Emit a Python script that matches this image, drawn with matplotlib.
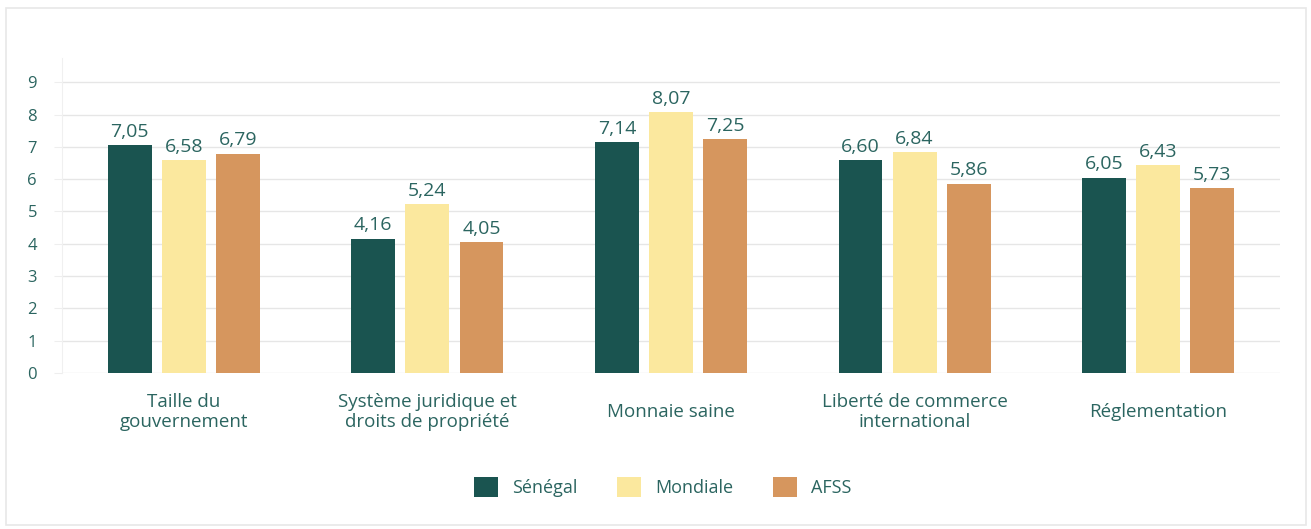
import matplotlib.pyplot as plt
import numpy as np
from matplotlib.patches import Rectangle

categories = ['Taille du\ngouvernement', 'Système juridique et\ndroits de propriété',
              'Monnaie saine', 'Liberté de commerce\ninternational', 'Réglementation']
senegal = [7.05, 4.16, 7.14, 6.60, 6.05]
mondiale = [6.58, 5.24, 8.07, 6.84, 6.43]
afss = [6.79, 4.05, 7.25, 5.86, 5.73]

series = ['Sénégal', 'Mondiale', 'AFSS']
colors = ['#1a5450', '#fbe89e', '#d6965e']
text_col = '#2b6560'

plt.rcParams['font.family'] = ['Open Sans', 'DejaVu Sans']

fig = plt.figure(figsize=(13.11, 5.29), dpi=100)
ax = fig.add_axes([62 / 1311, 1 - 373 / 529, 1218 / 1311, 315 / 529])

# light frame around the card
fig.patches.append(Rectangle((6 / 1311, 4 / 529), 1300 / 1311, 517 / 529,
                             transform=fig.transFigure, fill=False,
                             edgecolor='#e8e8e8', linewidth=1.2))

x = np.arange(len(categories))
width = 0.18
step = 0.222
for i, (vals, name, col) in enumerate(zip([senegal, mondiale, afss], series, colors)):
    bars = ax.bar(x + (i - 1) * step, vals, width=width, color=col, label=name, zorder=3)
    for b, v in zip(bars, vals):
        ax.text(b.get_x() + b.get_width() / 2, v + 0.13, f'{v:.2f}'.replace('.', ','),
                ha='center', va='bottom', fontsize=14, color=text_col, zorder=4)

ax.set_xlim(-0.5, 4.5)
ax.set_ylim(0, 9.75)
ax.set_yticks(range(10))
ax.grid(axis='y', color='#e6e6e6', linewidth=1, zorder=0)
ax.set_xticks(x)
ax.set_xticklabels(categories, fontsize=13.5, color=text_col, linespacing=1.15, va='center')
ax.tick_params(axis='x', length=0, pad=28)
ax.tick_params(axis='y', length=6, color='#eeeeee', labelsize=12, labelcolor=text_col, pad=12)
for s in ['top', 'right', 'bottom']:
    ax.spines[s].set_visible(False)
ax.spines['left'].set_color('#f0f0f0')

fig.legend(loc='center', bbox_to_anchor=(663 / 1311, 1 - 487 / 529), ncol=3, frameon=False,
           fontsize=13, labelcolor=text_col, handlelength=1.3, handleheight=1.3,
           columnspacing=2.2, handletextpad=0.8)

fig.savefig('out.png', dpi=100, facecolor='white')
